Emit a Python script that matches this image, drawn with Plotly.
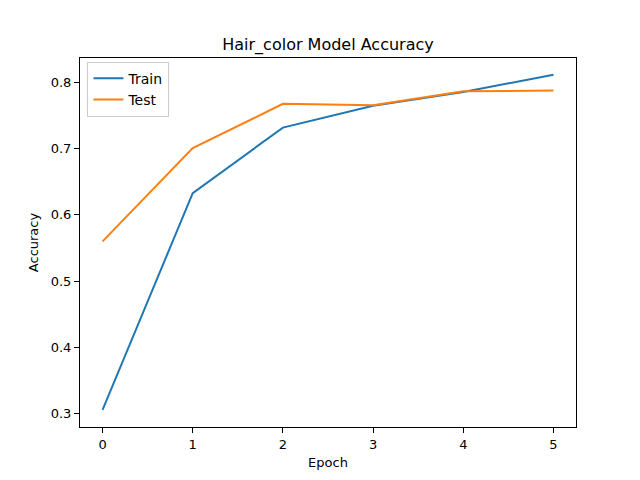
import plotly.graph_objects as go

epochs = [0, 1, 2, 3, 4, 5]
train_acc = [0.305, 0.633, 0.732, 0.765, 0.786, 0.812]
test_acc = [0.560, 0.701, 0.768, 0.766, 0.787, 0.788]

fig = go.Figure()
fig.add_trace(go.Scatter(x=epochs, y=train_acc, mode='lines', name='Train',
                         line=dict(color='#1f77b4', width=2)))
fig.add_trace(go.Scatter(x=epochs, y=test_acc, mode='lines', name='Test',
                         line=dict(color='#ff7f0e', width=2)))

axis_style = dict(showgrid=False, zeroline=False, showline=True, linecolor='black',
                  linewidth=1, mirror=True, ticks='outside', ticklen=5, tickcolor='black',
                  tickfont=dict(size=13, color='black'))

# the page body has an 8px margin, so the figure is 8px smaller and the margins shifted
fig.update_layout(
    width=632, height=472,
    margin=dict(l=72, r=64, t=50, b=53),
    paper_bgcolor='white', plot_bgcolor='white',
    font=dict(family='DejaVu Sans', color='black'),
    title=dict(text='Hair_color Model Accuracy', x=(328 - 8) / 632, xanchor='center',
               y=1 - 36 / 472, yanchor='middle', font=dict(size=16)),
    xaxis=dict(range=[-0.25, 5.25], tickvals=epochs,
               title=dict(text='Epoch', font=dict(size=13), standoff=7), **axis_style),
    yaxis=dict(range=[0.2792, 0.8373], tickvals=[0.3, 0.4, 0.5, 0.6, 0.7, 0.8],
               tickformat='.1f',
               title=dict(text='Accuracy', font=dict(size=13), standoff=9), **axis_style),
    legend=dict(x=0.015, y=0.99, xanchor='left', yanchor='top',
                bordercolor='#cccccc', borderwidth=1, bgcolor='rgba(255,255,255,0.8)',
                font=dict(size=14), tracegroupgap=0),
)

fig.write_html("out.html")
